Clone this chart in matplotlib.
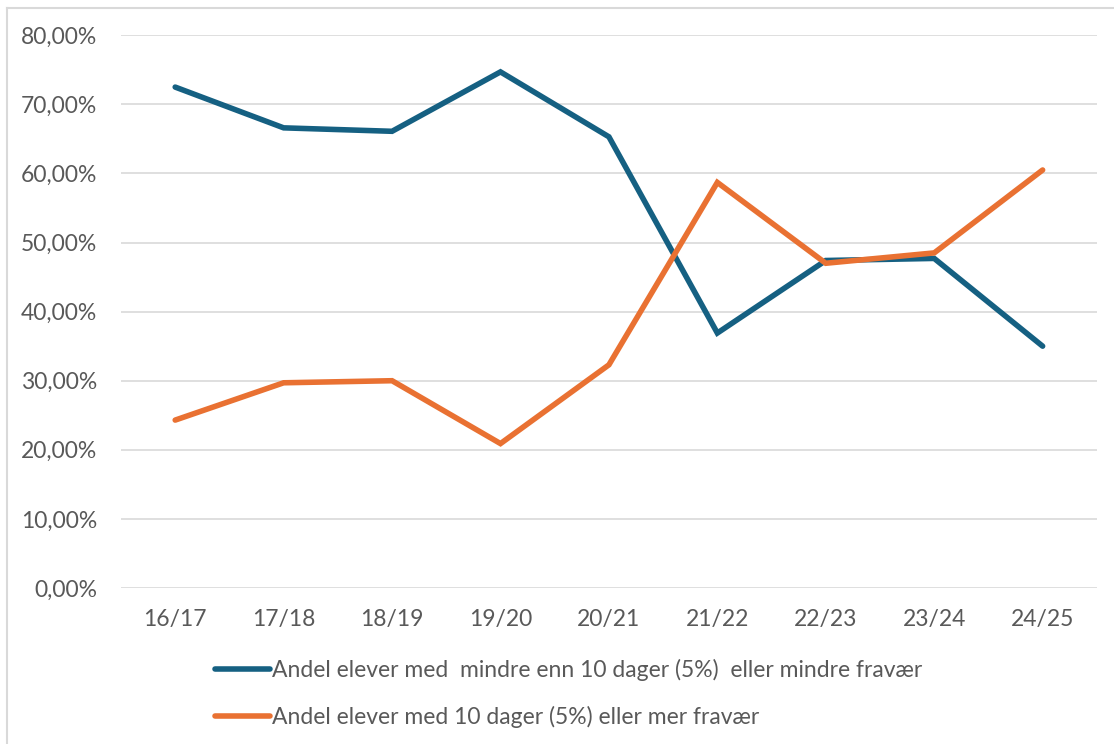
import matplotlib.pyplot as plt
from matplotlib.lines import Line2D
from matplotlib.ticker import FuncFormatter

plt.rcParams['font.family'] = ['Lato', 'DejaVu Sans']

skoleaar = ['16/17', '17/18', '18/19', '19/20', '20/21', '21/22', '22/23', '23/24', '24/25']
under_10 = [72.5, 66.6, 66.1, 74.7, 65.3, 36.9, 47.4, 47.7, 35.0]
over_10 = [24.3, 29.7, 30.0, 20.9, 32.3, 58.7, 47.0, 48.5, 60.5]
navn = ['Andel elever med  mindre enn 10 dager (5%)  eller mindre fravær',
        'Andel elever med 10 dager (5%) eller mer fravær']

blaa = '#156082'
oransje = '#E97132'
graa_tekst = '#595959'

fig = plt.figure(figsize=(11.14, 7.44), dpi=100)
ax = fig.add_axes([0.1086, 0.2097, 0.876, 0.7429])

x = range(len(skoleaar))
ax.plot(x, under_10, color=blaa, lw=4.0, solid_capstyle='round', solid_joinstyle='miter', label=navn[0])
ax.plot(x, over_10, color=oransje, lw=4.0, solid_capstyle='round', solid_joinstyle='miter', label=navn[1])

ax.set_xlim(-0.5, len(skoleaar) - 0.5)
ax.set_ylim(0, 80)
ax.set_yticks(range(0, 81, 10))
ax.yaxis.set_major_formatter(FuncFormatter(lambda v, p: f'{v:.2f}%'.replace('.', ',')))
ax.set_xticks(list(x))
ax.set_xticklabels(skoleaar)
ax.grid(axis='y', color='#D9D9D9', lw=1.2)
ax.set_axisbelow(True)
for s in ax.spines.values():
    s.set_visible(False)
ax.tick_params(length=0, labelsize=16.5, colors=graa_tekst)
ax.tick_params(axis='y', pad=17)
ax.tick_params(axis='x', pad=15)

leg = fig.legend(loc='upper left', bbox_to_anchor=(0.193, 0.115), frameon=False,
                 fontsize=16.5, handlelength=2.4, handletextpad=0.1, labelspacing=1.1,
                 borderaxespad=0, borderpad=0)
for t in leg.get_texts():
    t.set_color(graa_tekst)

# ramme rundt diagrammet (bare topp og venstre synlig)
fig.add_artist(Line2D([0.0063, 1.0], [0.9899, 0.9899], transform=fig.transFigure, color='#D9D9D9', lw=1.5))
fig.add_artist(Line2D([0.0063, 0.0063], [0.0, 0.9899], transform=fig.transFigure, color='#D9D9D9', lw=1.5))

fig.savefig('out.png', dpi=100)
